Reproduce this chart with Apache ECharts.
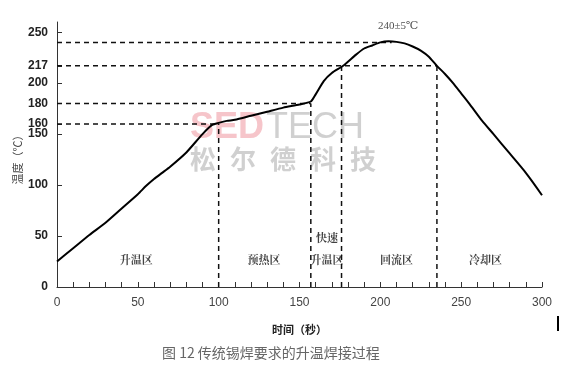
<!DOCTYPE html>
<html><head><meta charset="utf-8">
<script src="https://cdn.jsdelivr.net/npm/echarts@6/dist/echarts.min.js"></script>
<style>html,body{margin:0;padding:0;background:#fff}#c{width:576px;height:373px}</style>
</head><body><div id="c"></div>
<script>
// Reflow profile (time s, temperature °C)
const curveX = [0,10,20,30,40,50,55,60,65,70,80,90,96,100,105,110,120,130,140,150,157,160,165,170,177,185,190,195,200,205,210,215,220,225,230,235,240,245,250,255,263,270,280,290,300];
const curveY = [25,38,51,63,77,91,99,106,112,118,132,150,159,161,163,164,168,172,176,179,182,189,202,210,217,228,234,237,240,241,240.5,239,236,232,226,217,209,200,190,180,163,150,131,112,90];
// Horizontal guide levels and where they end on the curve
const hLevel = [240,217,180,160];
const hEnd = [207,235,157,100];
// Vertical guides: time and top temperature
const vTime = [100,157,176,235];
const vTop = [160,180,217,217];
// Zone labels
const zoneNames = ['升温区','预热区','快速','升温区','回流区','冷却区'];
const zoneX = [49,128,167,167,210,265];
const zoneY = [27,27,48,27,27,27];
const peakLabel = '240±5℃';
const peakX = 211, peakY = 256;
// Tick labels
const yTicks = [0,50,100,150,160,180,200,217,250];
const xTicks = [0,50,100,150,200,250,300];
const xMinor = [0,10,20,30,40,50,60,70,80,90,100,110,120,130,140,150,160,170,180,190,200,210,220,230,240,250,260,270,280,290,300];

const chart = echarts.init(document.getElementById('c'), null, {renderer:'canvas'});
const guideStyle = {color:'#111', width:1.5, type:[5,4]};
const series = [];
series.push({type:'line', data: curveX.map((x,i)=>[x,curveY[i]]), smooth:0.2, symbol:'none',
  lineStyle:{color:'#000', width:2}, z:5});
hLevel.forEach((lv,i)=>{
  series.push({type:'line', data:[[0,lv],[hEnd[i],lv]], symbol:'none', lineStyle:guideStyle, z:3});
});
vTime.forEach((t,i)=>{
  series.push({type:'line', data:[[t,0],[t,vTop[i]]], symbol:'none', lineStyle:guideStyle, z:3});
});
series.push({type:'scatter', symbolSize:1, itemStyle:{color:'rgba(0,0,0,0)'},
  data: zoneNames.map((n,i)=>({name:n, value:[zoneX[i],zoneY[i]]})),
  label:{show:true, position:'inside', formatter:p=>p.name, color:'#111',
    fontFamily:'"Noto Serif CJK SC","Noto Sans CJK SC"', fontWeight:'bold', fontSize:11}, z:6});
series.push({type:'scatter', symbolSize:1, itemStyle:{color:'rgba(0,0,0,0)'},
  data:[{name:peakLabel, value:[peakX,peakY]}],
  label:{show:true, position:'inside', formatter:p=>p.name, color:'#222',
    fontFamily:'"Liberation Serif","DejaVu Serif",serif', fontSize:11}, z:6});

chart.setOption({
  animation:false,
  backgroundColor:'#fff',
  grid:{left:57, right:34, top:22, bottom:86, containLabel:false},
  xAxis:{type:'value', min:0, max:300, interval:10,
    name:'时间（秒）', nameLocation:'middle', nameGap:37,
    nameTextStyle:{color:'#222', fontSize:11, fontFamily:'Noto Sans CJK SC', fontWeight:'bold'},
    axisLine:{lineStyle:{color:'#333', width:1}},
    axisTick:{inside:true, length:5, lineStyle:{color:'#333'}, customValues:xMinor},
    axisLabel:{color:'#444', fontSize:12, fontFamily:'Arial, Liberation Sans', margin:10, customValues:xTicks},
    splitLine:{show:false}},
  yAxis:{type:'value', min:0, max:260,
    axisLine:{show:true, lineStyle:{color:'#333', width:1}},
    axisTick:{show:true, inside:true, length:5, lineStyle:{color:'#333'}, customValues:yTicks},
    axisLabel:{color:'#222', fontSize:12, fontWeight:'bold', fontFamily:'Arial, Liberation Sans', margin:9, customValues:yTicks},
    splitLine:{show:false}},
  series: series,
  graphic:[
    {type:'text', x:18, y:157, rotation:Math.PI/2, style:{text:'温度（℃）', font:'11px "Noto Sans CJK SC"', fill:'#444', align:'center', verticalAlign:'middle'}},
    {type:'text', left:190, top:110, z:1, style:{text:'SED', font:'bold 36px "Liberation Sans", Arial', fill:'rgba(238,140,150,0.5)'}},
    {type:'text', left:266, top:110, z:1, style:{text:'TECH', font:'36px "Liberation Sans", Arial', fill:'rgba(150,150,150,0.45)'}},
    {type:'text', left:190, top:146, z:1, style:{text:'松', font:'bold 26px "Noto Sans CJK SC"', fill:'rgba(150,150,150,0.45)'}},
    {type:'text', left:230, top:146, z:1, style:{text:'尔', font:'bold 26px "Noto Sans CJK SC"', fill:'rgba(150,150,150,0.45)'}},
    {type:'text', left:270, top:146, z:1, style:{text:'德', font:'bold 26px "Noto Sans CJK SC"', fill:'rgba(150,150,150,0.45)'}},
    {type:'text', left:310, top:146, z:1, style:{text:'科', font:'bold 26px "Noto Sans CJK SC"', fill:'rgba(150,150,150,0.45)'}},
    {type:'text', left:350, top:146, z:1, style:{text:'技', font:'bold 26px "Noto Sans CJK SC"', fill:'rgba(150,150,150,0.45)'}},
    {type:'text', left:162, top:346, style:{text:'图 12 传统锡焊要求的升温焊接过程', font:'14px "Noto Sans CJK SC"', fill:'#666'}},
    {type:'rect', left:557, top:316, shape:{width:2, height:15}, style:{fill:'#000'}}
  ]
});
</script></body></html>
